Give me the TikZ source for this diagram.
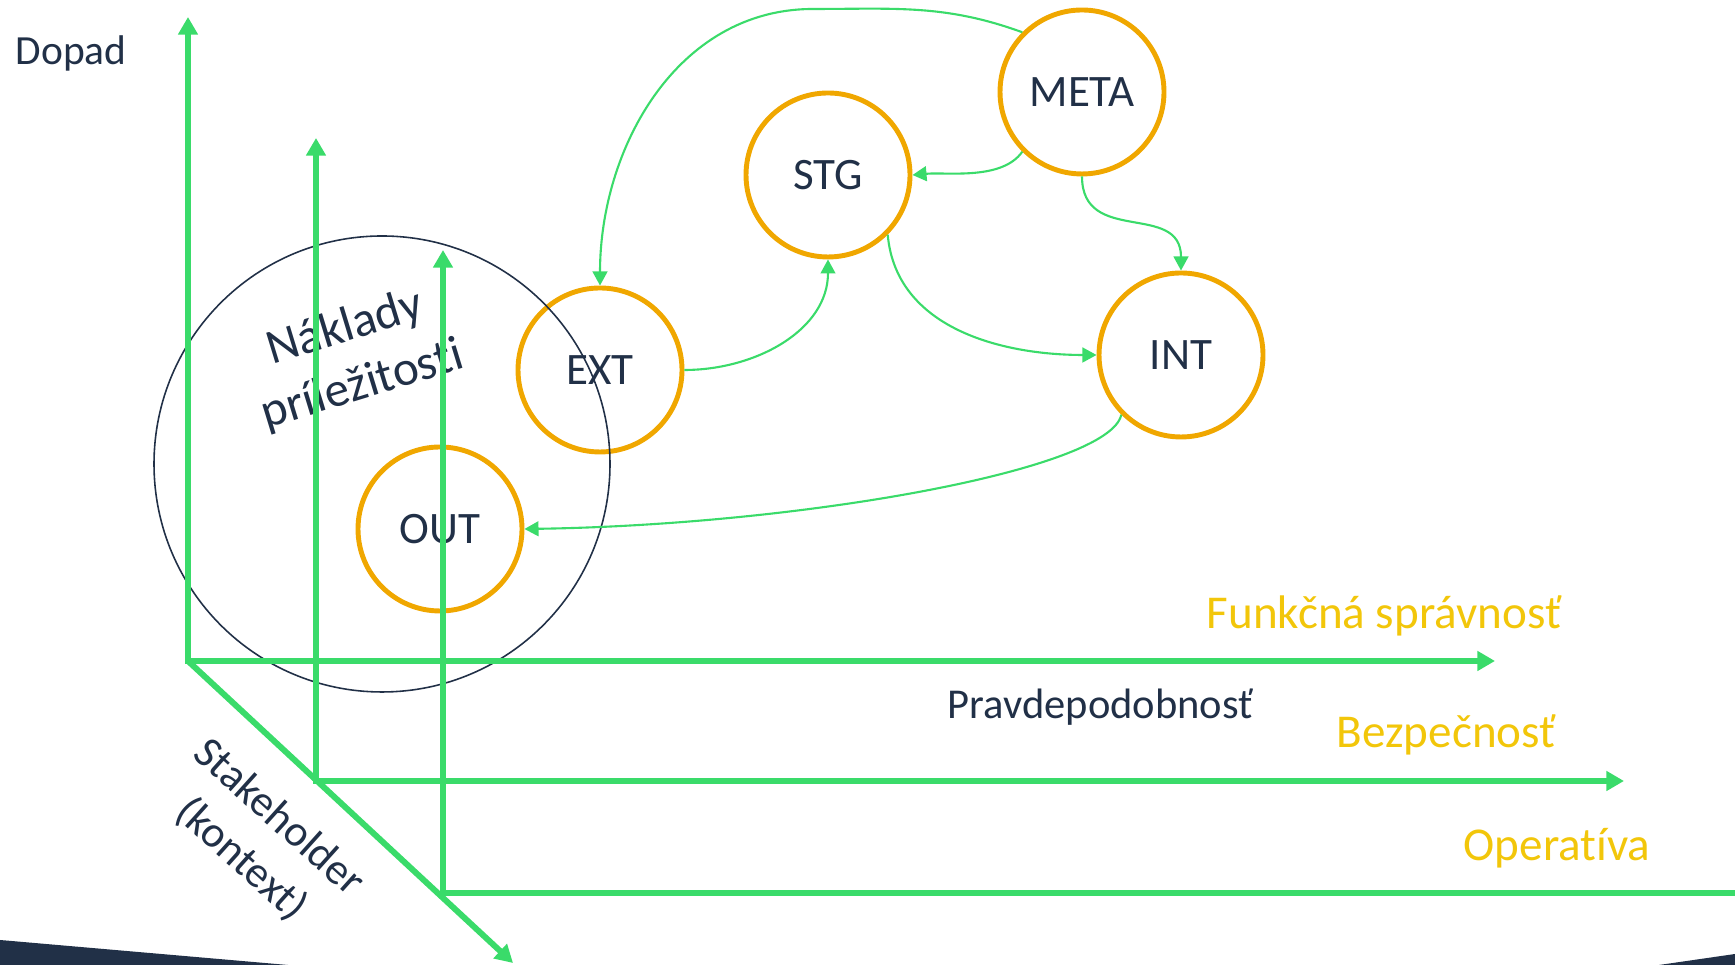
\documentclass[tikz,border=0pt]{standalone}
\usepackage{fontspec}
\setmainfont{Carlito}[Ligatures=NoCommon]
\usepackage{tikz}
\usetikzlibrary{arrows.meta,positioning,calc}
\definecolor{axisgreen}{RGB}{58,219,106}
\definecolor{ringorange}{RGB}{240,167,0}
\definecolor{dimyellow}{RGB}{242,198,10}
\definecolor{inkblue}{RGB}{33,48,71}
\tikzset{
    semithick,
    state/.style ={circle, draw=ringorange, line width=1.4pt, minimum size=1.64cm, inner sep=0pt, text=inkblue, font=\fontsize{12.8}{15}\selectfont},
    axis/.style = {axisgreen, line width=1.7pt, >={Triangle[length=5pt,width=5.4pt]}},
    link/.style = {axisgreen, semithick, ->, >={Triangle[length=4pt,width=4.2pt]}},
    dim/.style = {text=dimyellow, font=\fontsize{13.4}{16}\selectfont, anchor=base west, inner sep=0pt},
    el/.style = {text=inkblue, inner sep=0pt}
}

\begin{document}
\begin{tikzpicture}
        \useasboundingbox (0,0) rectangle (17.35,9.65);
        % Slide footer
        \fill[inkblue] (0,0) -- (0,0.25) -- (2.88,0) -- cycle;
        \fill[inkblue] (16.59,0) -- (17.35,0.11) -- (17.35,0) -- cycle;
        % Levels
        \node[state] (OUT) at (4.40,4.36) {OUT};
        \node[state] (EXT) at (6.00,5.95) {EXT};
        \node[state] (STG) at (8.28,7.90) {STG};
        \node[state] (META) at (10.82,8.73) {META};
        \node[state] (INT) at (11.81,6.10) {INT};
        % Opportunity cost
        \node[circle, draw=inkblue, line width=0.45pt, minimum size=4.56cm] (cost) at (3.82,5.01) {};
        \node[el, rotate=17, align=center, font=\fontsize{14}{17}\selectfont] (costlabel) at (3.54,6.08) {Náklady\\príležitosti};
        % Axes
        \coordinate (o1) at (1.88,3.04);
        \coordinate (o2) at (3.16,1.84);
        \coordinate (o3) at (4.43,0.72);
        \coordinate (v1) at (1.88,9.48);
        \coordinate (v2) at (3.16,8.27);
        \coordinate (v3) at (4.43,7.15);
        \coordinate (h1) at (14.95,3.04);
        \coordinate (h2) at (16.24,1.84);
        \coordinate (h3) at (17.53,0.72);
        \coordinate (ctx) at (5.13,0.02);
        \draw[axis, <->] (v1) -- (o1) -- (h1);
        \draw[axis, <->] (v2) -- (o2) -- (h2);
        \draw[axis, <->] (v3) -- (o3) -- (h3);
        \draw[axis, ->] (o1) -- (ctx);
        % Axis labels
        \node[el, anchor=base west, font=\fontsize{11.8}{14}\selectfont] (impact) at (0.15,9.00) {Dopad};
        \node[el, anchor=base west, font=\fontsize{12.1}{14}\selectfont] (likely) at (9.47,2.46) {Pravdepodobnosť};
        \node[el, rotate=-42, align=center, font=\fontsize{12.5}{16}\selectfont] (stake) at (2.60,1.26) {Stakeholder\\(kontext)};
        \node[dim] (func) at (12.06,3.36) {Funkčná správnosť};
        \node[dim] (secur) at (13.36,2.17) {Bezpečnosť};
        \node[dim] (oper) at (14.63,1.04) {Operatíva};
        % Transitions
        \coordinate (topbend) at (8.13,9.56);
        \draw[link] (META.135) to[out=160,in=0] (topbend) to[out=180,in=90] (EXT.north);
        \path[link] (META.225) edge[out=235,in=5,looseness=0.8] (STG.east);
        \path[link] (META.south) edge[out=-90,in=90,looseness=1.3] (INT.north);
        \path[link] (EXT.east) edge[out=0,in=-90] (STG.south);
        \path[link] (STG.-45) edge[out=-85,in=180] (INT.west);
        \draw[link] (INT.225) .. controls (11.10,4.95) and (8.00,4.40) .. (OUT.east);
    \end{tikzpicture}
\end{document}
